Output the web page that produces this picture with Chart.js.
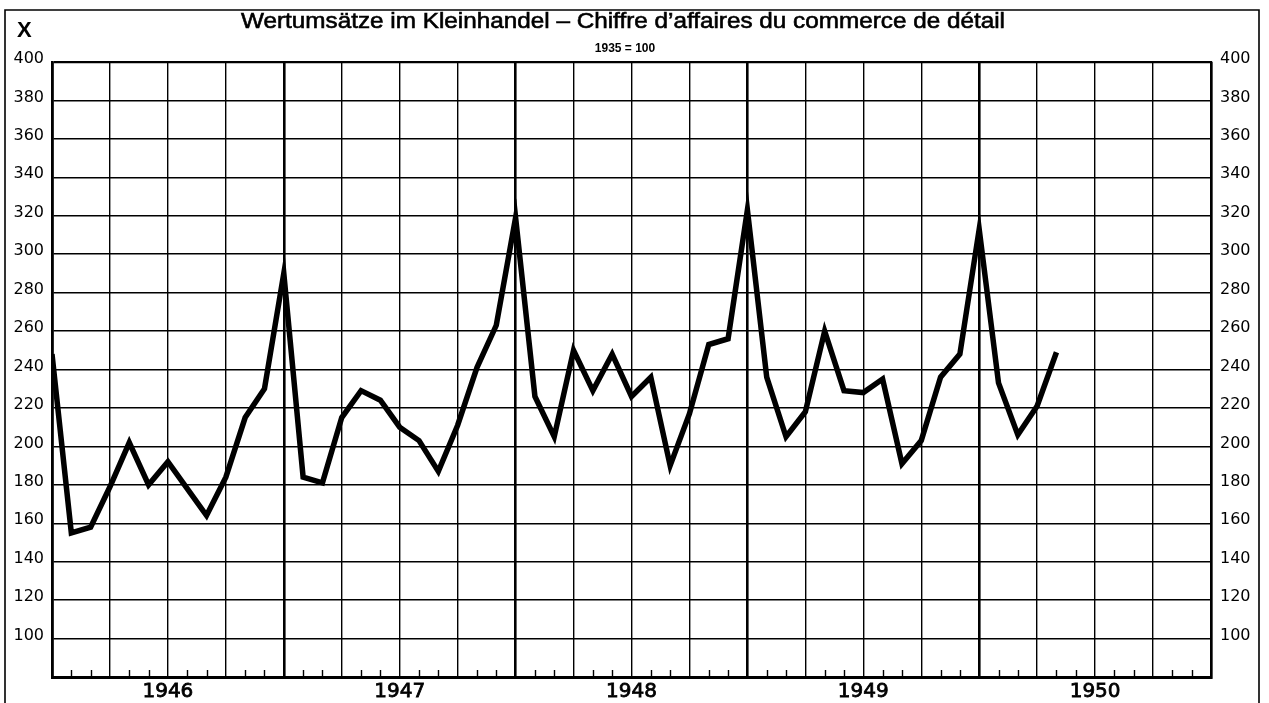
<!DOCTYPE html>
<html>
<head>
<meta charset="utf-8">
<title>Wertumsätze im Kleinhandel</title>
<script src="https://cdn.jsdelivr.net/npm/chart.js@4.4.1/dist/chart.umd.min.js"></script>
<style>
  html, body { margin: 0; padding: 0; background: #fff; }
</style>
</head>
<body>
<canvas id="retailChart" width="1269" height="703"></canvas>
<script>
// monthly index, 1935 = 100, from Dec 1945 (x = 0) to Apr 1950
var retailIndex = [
  248, 155, 158, 179, 202, 180, 192, 178, 164, 184, 215, 230, 290,   // Dec 45 - Dec 46
  184, 181, 215, 229, 224, 210, 203, 187, 211, 241, 263, 319,        // 1947
  226, 205, 250, 229, 248, 226, 236, 190, 217, 253, 256, 323,        // 1948
  236, 205, 218, 260, 229, 228, 235, 191, 203, 236, 248, 313,        // 1949
  233, 206, 221, 249                                                 // 1950
];
var yearLabels = ['1946', '1947', '1948', '1949', '1950'];
var monthsShown = 60;   // Jan 1946 .. Dec 1950
var yMin = 80, yMax = 400, yStep = 20;

var titleText = 'Wertumsätze im Kleinhandel – Chiffre d’affaires du commerce de détail';
var baseText = '1935 = 100';

var points = retailIndex.map(function (v, i) { return { x: i, y: v }; });

var decorPlugin = {
  id: 'decor',
  afterDraw: function (chart) {
    var ctx = chart.ctx;
    var area = chart.chartArea;
    var xs = chart.scales.x;
    ctx.save();

    // monthly tick marks standing on the base line
    ctx.strokeStyle = '#000';
    ctx.lineWidth = 1.4;
    ctx.beginPath();
    for (var m = 1; m < monthsShown; m++) {
      if (m % 3 === 0) continue;
      var px = Math.round(xs.getPixelForValue(m)) + 0.5;
      ctx.moveTo(px, area.bottom);
      ctx.lineTo(px, area.bottom - 7);
    }
    ctx.stroke();

    // outer frame
    ctx.lineWidth = 1.6;
    ctx.beginPath();
    ctx.moveTo(5, 703);
    ctx.lineTo(5, 10);
    ctx.lineTo(1259, 10);
    ctx.lineTo(1259, 703);
    ctx.stroke();

    ctx.fillStyle = '#000';
    ctx.textBaseline = 'alphabetic';
    ctx.font = 'bold 22px "Liberation Sans"';
    ctx.fillText('X', 17, 37);

    ctx.font = 'bold 12px "Liberation Sans"';
    ctx.textAlign = 'center';
    ctx.fillText(baseText, 625, 52);

    ctx.textAlign = 'left';
    ctx.font = '22px "Liberation Sans"';
    ctx.lineWidth = 0.6;
    var w = ctx.measureText(titleText).width;
    ctx.translate(241, 28);
    ctx.scale(764 / w, 1);
    ctx.fillText(titleText, 0, 0);
    ctx.strokeText(titleText, 0, 0);
    ctx.restore();
  }
};

var ctx = document.getElementById('retailChart').getContext('2d');
var retailChart = new Chart(ctx, {
  type: 'line',
  data: {
    datasets: [{
      label: 'Kleinhandel',
      data: points,
      borderColor: '#000',
      borderWidth: 5.5,
      borderJoinStyle: 'miter',
      pointRadius: 0,
      tension: 0,
      fill: false
    }]
  },
  options: {
    responsive: false,
    animation: false,
    layout: { padding: { top: 62, left: 0, right: 0, bottom: 0 } },
    plugins: {
      legend: { display: false },
      tooltip: { enabled: false },
      title: { display: false }
    },
    scales: {
      x: {
        type: 'linear',
        min: 0,
        max: monthsShown,
        afterFit: function (s) { s.height = 26; },
        afterBuildTicks: function (s) {
          s.ticks = [];
          for (var m = 0; m <= monthsShown; m++) s.ticks.push({ value: m });
        },
        ticks: {
          autoSkip: false,
          maxRotation: 0,
          padding: 3,
          color: '#000',
          textStrokeColor: '#000',
          textStrokeWidth: 0.8,
          font: { family: 'DejaVu Sans', size: 20 },
          callback: function (v) {
            if (v % 12 === 6) return yearLabels[(v - 6) / 12];
            return '';
          }
        },
        grid: {
          drawTicks: false,
          color: function (c) {
            return c.tick && c.tick.value % 3 === 0 ? '#000' : 'rgba(0,0,0,0)';
          },
          lineWidth: function (c) {
            return c.tick && c.tick.value % 12 === 0 ? 2.6 : 1.4;
          }
        },
        border: { display: true, color: '#000', width: 3 }
      },
      y: {
        position: 'left',
        min: yMin,
        max: yMax,
        afterFit: function (s) { s.width = 52; },
        ticks: {
          stepSize: yStep,
          padding: 8,
          labelOffset: -3,
          color: '#000',
          font: { family: 'DejaVu Sans', size: 16 },
          callback: function (v) { return v === yMin ? '' : v; }
        },
        grid: {
          drawTicks: false,
          color: '#000',
          lineWidth: function (c) { return c.tick && c.tick.value === yMax ? 2.2 : 1.4; }
        },
        border: { display: true, color: '#000', width: 2.6 }
      },
      y2: {
        position: 'right',
        min: yMin,
        max: yMax,
        afterFit: function (s) { s.width = 58; },
        ticks: {
          stepSize: yStep,
          padding: 9,
          labelOffset: -3,
          color: '#000',
          font: { family: 'DejaVu Sans', size: 16 },
          callback: function (v) { return v === yMin ? '' : v; }
        },
        grid: { display: false, drawTicks: false },
        border: { display: true, color: '#000', width: 2.2 }
      }
    }
  },
  plugins: [decorPlugin]
});
</script>
</body>
</html>
